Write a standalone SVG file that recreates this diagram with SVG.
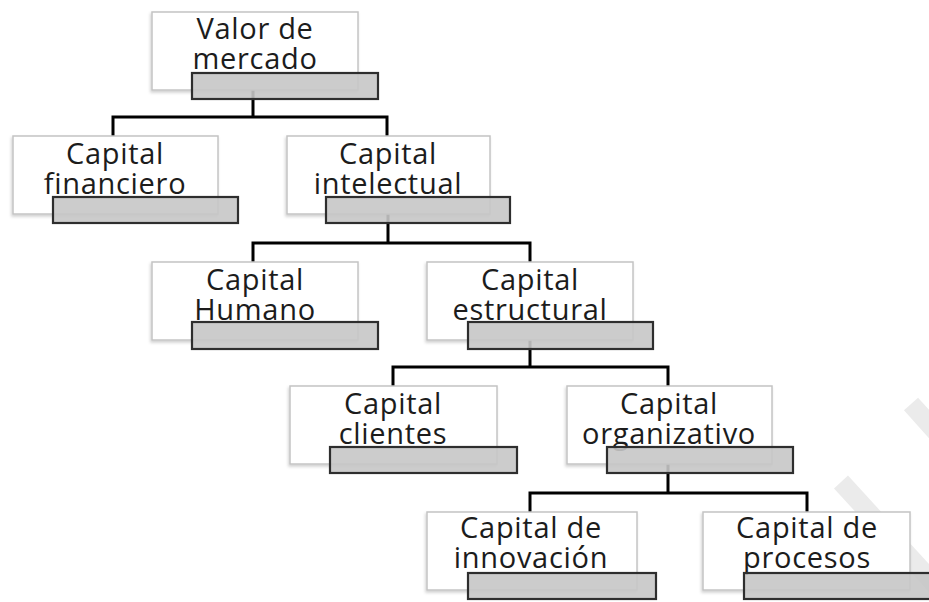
<svg xmlns="http://www.w3.org/2000/svg" width="929" height="602" viewBox="0 0 929 602">
  <defs>
    <filter id="shadow" x="-10%" y="-10%" width="125%" height="130%">
      <feDropShadow dx="-1" dy="2" stdDeviation="1.5" flood-color="#000" flood-opacity="0.18"/>
    </filter>
    <style>
      .box { fill: #ffffff; stroke: #c4c4c4; stroke-width: 1.5; filter: url(#shadow); }
      .bar { fill: #c6c6c6; fill-opacity: 0.9; stroke: #2e2e2e; stroke-width: 2.2; }
      .lbl { font-family: "Open Sans", "DejaVu Sans", sans-serif; font-size: 29px; letter-spacing: 0.7px; fill: #1c1c1c; text-anchor: middle; }
      .link { fill: none; stroke: #000; stroke-width: 3; stroke-linejoin: miter; }
      .band { stroke: #ebebeb; stroke-width: 19; stroke-linecap: butt; }
    </style>
  </defs>

  <rect width="929" height="602" fill="#ffffff"/>

  <!-- faint diagonal background bands -->
  <g id="bands">
    <line class="band" x1="911" y1="404" x2="990" y2="492"/>
    <line class="band" x1="841" y1="482" x2="960" y2="612"/>
  </g>

  <!-- tree connectors -->
  <g id="connectors">
    <path class="link" d="M253 90 V117 M113 136 V117 H387 V136"/>
    <path class="link" d="M388 214 V243 M253 262 V243 H530 V262"/>
    <path class="link" d="M530 340 V367 M393 386 V367 H668 V386"/>
    <path class="link" d="M668 464 V493 M530 512 V493 H807 V512"/>
  </g>

  <g id="valor-mercado">
    <rect class="box" x="152" y="12" width="206" height="78"/>
    <text class="lbl" x="255" y="39">Valor de</text>
    <text class="lbl" x="255" y="69">mercado</text>
    <rect class="bar" x="192" y="73" width="186" height="26"/>
  </g>

  <g id="capital-financiero">
    <rect class="box" x="13" y="136" width="205" height="78"/>
    <text class="lbl" x="115" y="164">Capital</text>
    <text class="lbl" x="115" y="194">financiero</text>
    <rect class="bar" x="53" y="197" width="185" height="26"/>
  </g>

  <g id="capital-intelectual">
    <rect class="box" x="287" y="136" width="203" height="78"/>
    <text class="lbl" x="388" y="164">Capital</text>
    <text class="lbl" x="388" y="194">intelectual</text>
    <rect class="bar" x="326" y="197" width="184" height="26"/>
  </g>

  <g id="capital-humano">
    <rect class="box" x="152" y="262" width="206" height="78"/>
    <text class="lbl" x="255" y="290">Capital</text>
    <text class="lbl" x="255" y="320">Humano</text>
    <rect class="bar" x="192" y="322" width="186" height="27"/>
  </g>

  <g id="capital-estructural">
    <rect class="box" x="427" y="262" width="206" height="78"/>
    <text class="lbl" x="530" y="290">Capital</text>
    <text class="lbl" x="530" y="320">estructural</text>
    <rect class="bar" x="468" y="322" width="185" height="27"/>
  </g>

  <g id="capital-clientes">
    <rect class="box" x="290" y="386" width="207" height="78"/>
    <text class="lbl" x="393" y="414">Capital</text>
    <text class="lbl" x="393" y="444">clientes</text>
    <rect class="bar" x="330" y="447" width="187" height="26"/>
  </g>

  <g id="capital-organizativo">
    <rect class="box" x="567" y="386" width="205" height="78"/>
    <text class="lbl" x="669" y="414">Capital</text>
    <text class="lbl" x="669" y="444">organizativo</text>
    <rect class="bar" x="607" y="447" width="186" height="26"/>
  </g>

  <g id="capital-innovacion">
    <rect class="box" x="427" y="512" width="210" height="78"/>
    <text class="lbl" x="531" y="538">Capital de</text>
    <text class="lbl" x="531" y="568">innovación</text>
    <rect class="bar" x="468" y="573" width="188" height="26"/>
  </g>

  <g id="capital-procesos">
    <rect class="box" x="703" y="512" width="207" height="78"/>
    <text class="lbl" x="807" y="538">Capital de</text>
    <text class="lbl" x="807" y="568">procesos</text>
    <rect class="bar" x="744" y="573" width="190" height="26"/>
  </g>
</svg>
